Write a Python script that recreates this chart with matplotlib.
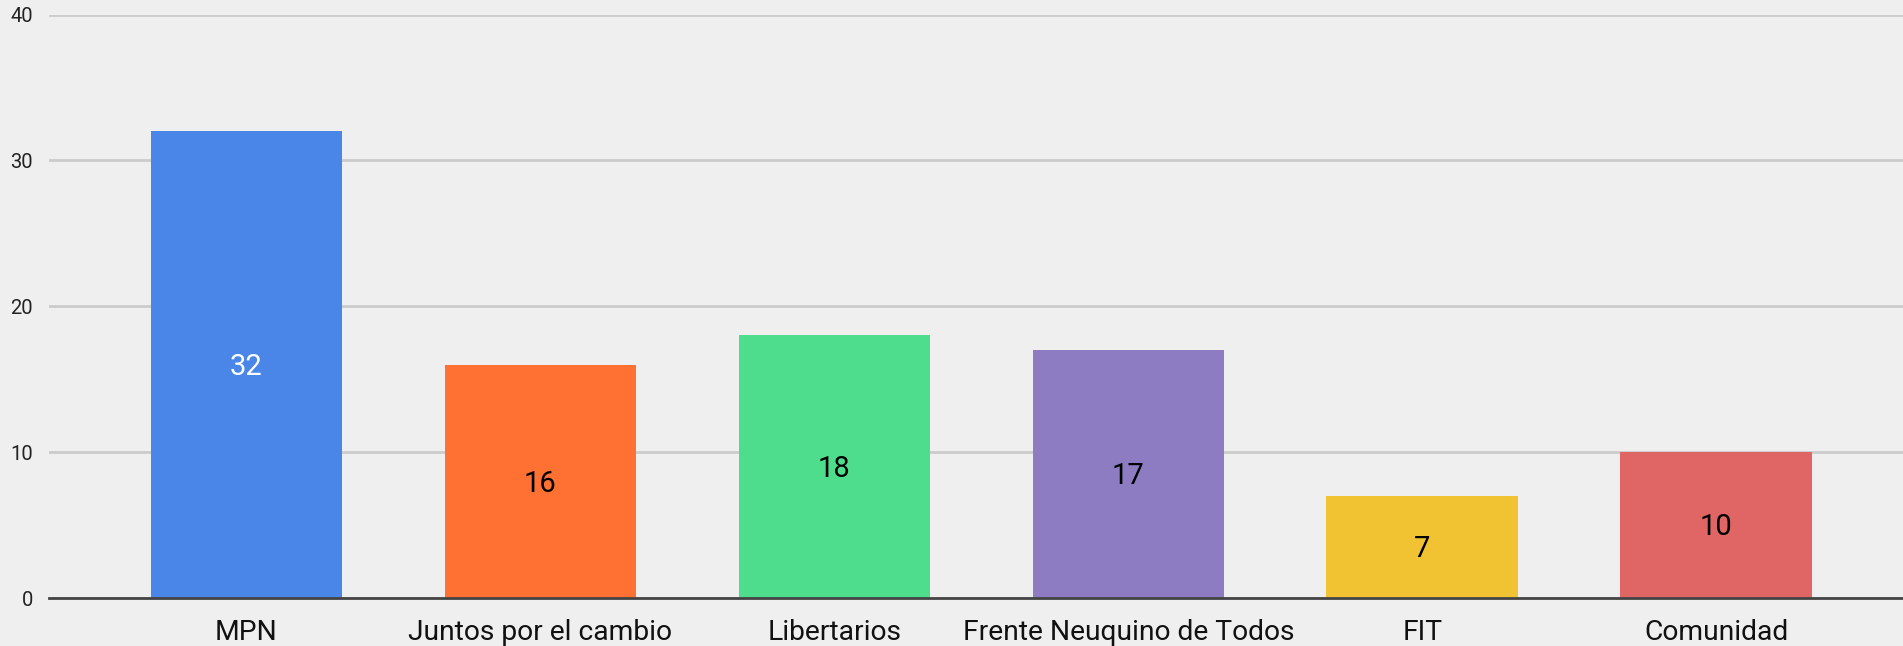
import matplotlib
matplotlib.use("Agg")
import matplotlib.pyplot as plt

categories = ["MPN", "Juntos por el cambio", "Libertarios", "Frente Neuquino de Todos", "FIT", "Comunidad"]
values = [32, 16, 18, 17, 7, 10]
colors = ["#4a86e8", "#ff7033", "#4edd8c", "#8e7cc3", "#f1c232", "#e06666"]
label_colors = ["white", "black", "black", "black", "black", "black"]
yticks = [0, 10, 20, 30, 40]

plt.rcParams['font.family'] = ['Roboto', 'DejaVu Sans']
bg = "#efefef"
fig = plt.figure(figsize=(19.03, 6.46), dpi=100, facecolor=bg)
ax = fig.add_axes([0.0255, 0.0743, 0.9745, 0.9031])
ax.set_facecolor(bg)

x = list(range(len(categories)))
ax.bar(x, values, width=0.652, color=colors, zorder=3)
for xi, v, lc in zip(x, values, label_colors):
    ax.text(xi, v / 2 - 0.15, str(v), ha="center", va="center", fontsize=21, color=lc, zorder=4)

ax.set_xlim(-0.673, 5.635)
ax.set_ylim(0, 40)
ax.set_yticks(yticks)
ax.set_yticklabels([str(t) for t in yticks], fontsize=14.5, color="#222222")
ax.set_xticks(x)
ax.set_xticklabels(categories, fontsize=20.3, color="#111111")
ax.tick_params(axis="both", length=0)
ax.tick_params(axis="x", pad=15)
ax.tick_params(axis="y", pad=11)
ax.grid(axis="y", color="#cccccc", linewidth=2, zorder=0)
for s in ["top", "right", "left"]:
    ax.spines[s].set_visible(False)
ax.spines["bottom"].set_color("#444444")
ax.spines["bottom"].set_linewidth(2)
ax.spines["bottom"].set_zorder(5)

fig.savefig("out.png", dpi=100, facecolor=bg)
